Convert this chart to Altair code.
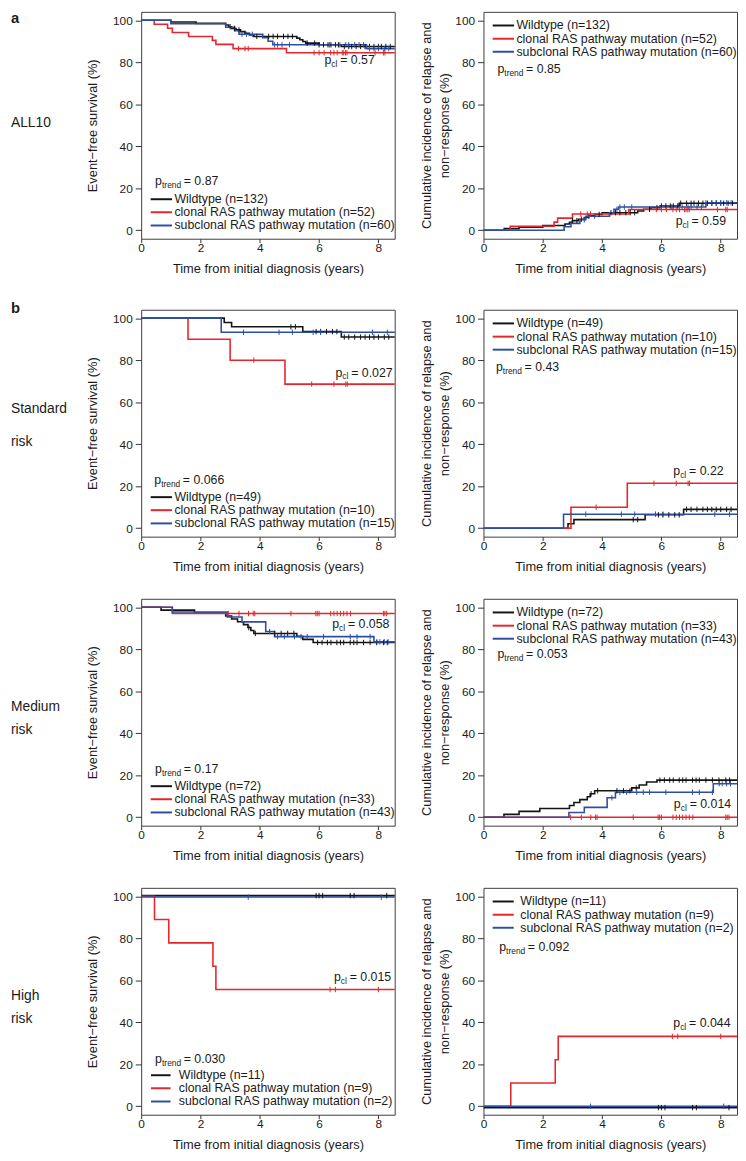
import altair as alt
import pandas as pd

FONT = "Liberation Sans"
INK = "#1b1b1b"
GROUP_ORDER = ["wt", "cl", "sub"]
GROUP_COLORS = ["#141414", "#e5262c", "#2d4fa3"]
X_MAX = 8.55
T_END = 8.6  # curves run on to the right border

# ===================== ALL10 =====================
all10_efs_wt_t = [0, 1.0, 1.85, 2.85, 2.95, 3.05, 3.2, 3.35, 3.5, 3.65, 3.8, 5.25, 5.35, 5.45, 5.55, 6.0, 6.75]
all10_efs_wt_v = [100, 99.2, 98.5, 97.7, 96.9, 96.1, 95.4, 94.6, 93.8, 93.0, 92.3, 91.5, 90.7, 89.9, 89.1, 88.3, 87.5]
all10_efs_cl_t = [0, 0.44, 0.89, 1.05, 1.6, 2.4, 2.52, 3.1, 4.9]
all10_efs_cl_v = [100, 98.1, 96.2, 94.2, 92.3, 90.4, 88.5, 86.5, 84.5]
all10_efs_sub_t = [0, 1.0, 2.85, 3.15, 3.3, 4.1, 4.28, 4.44, 7.6]
all10_efs_sub_v = [100, 98.3, 96.7, 95.0, 93.3, 91.7, 90.0, 88.3, 86.5]
all10_cir_wt_t = [0, 0.7, 1.2, 2.0, 2.75, 2.9, 3.0, 3.2, 3.4, 3.55, 3.75, 4.0, 5.2, 5.4, 5.65, 5.95, 6.6]
all10_cir_wt_v = [0, 0.8, 1.5, 2.3, 3.0, 3.8, 4.6, 5.3, 6.1, 6.9, 7.6, 8.4, 9.2, 10.0, 10.8, 11.6, 12.9]
all10_cir_cl_t = [0, 0.9, 2.38, 2.5, 3.0, 4.9]
all10_cir_cl_v = [0, 1.9, 3.9, 5.8, 7.8, 9.9]
all10_cir_sub_t = [0, 2.72, 2.95, 3.25, 3.45, 4.25, 4.4, 4.55, 7.5]
all10_cir_sub_v = [0, 1.7, 3.3, 5.0, 6.7, 8.3, 10.0, 11.1, 13.1]
all10_cens_wt = [3.0, 3.15, 3.3, 3.9, 4.3, 4.45, 4.6, 4.8, 4.95, 5.1, 5.6, 5.85, 6.0, 6.15, 6.3, 6.4,
                 6.55, 6.65, 6.85, 7.0, 7.1, 7.25, 7.4, 7.55, 7.7, 7.85, 8.0, 8.1, 8.25, 8.4]
all10_cens_cl = [3.28, 3.5, 3.61, 5.83, 6.0, 6.17, 6.39, 6.5, 6.61, 6.78, 6.83, 6.89, 6.94, 7.89, 8.17, 8.22]
all10_cens_sub = [3.4, 3.55, 3.75, 4.5, 4.6, 4.75, 5.0, 6.35, 6.7, 6.9, 7.0, 7.2, 7.35, 7.5, 7.7, 7.85, 8.0, 8.2, 8.35]

# ===================== Standard risk =====================
sr_efs_wt_t = [0, 2.8, 3.05, 5.45, 6.75]
sr_efs_wt_v = [100, 97.9, 95.9, 93.6, 91.0]
sr_efs_cl_t = [0, 1.58, 3.0, 4.85]
sr_efs_cl_v = [100, 90.0, 80.0, 68.6]
sr_efs_sub_t = [0, 2.7]
sr_efs_sub_v = [100, 93.3]
sr_cir_wt_t = [0, 2.85, 3.05, 5.45, 6.75]
sr_cir_wt_v = [0, 2.1, 4.1, 6.4, 9.0]
sr_cir_cl_t = [0, 2.95, 4.85]
sr_cir_cl_v = [0, 10.0, 21.4]
sr_cir_sub_t = [0, 2.7]
sr_cir_sub_v = [0, 6.7]
sr_cens_wt = [5.05, 5.2, 5.9, 6.05, 6.25, 6.45, 6.6, 6.85, 7.0, 7.2, 7.4, 7.55, 7.7, 7.85, 8.0, 8.2, 8.35]
sr_cens_cl = [3.8, 5.75, 6.5, 6.9, 6.95]
sr_cens_sub = [3.45, 4.65, 5.1, 5.8, 6.05, 7.8, 8.3]

# ===================== Medium risk =====================
mr_efs_wt_t = [0, 0.67, 1.8, 2.85, 3.05, 3.25, 3.45, 3.6, 3.7, 3.8, 5.25, 5.45, 5.8]
mr_efs_wt_v = [100, 98.6, 97.2, 95.8, 94.4, 93.1, 91.7, 90.3, 88.9, 87.5, 86.1, 84.7, 83.2]
mr_efs_cl_t = [0, 1.05]
mr_efs_cl_v = [100, 97.0]
mr_efs_sub_t = [0, 1.05, 2.9, 3.4, 4.2, 4.5, 7.85]
mr_efs_sub_v = [100, 97.7, 95.3, 93.0, 88.4, 86.0, 83.5]
mr_cir_wt_t = [0, 0.69, 1.2, 1.9, 2.9, 3.05, 3.25, 3.5, 3.6, 3.75, 5.0, 5.25, 5.5, 5.85]
mr_cir_wt_v = [0, 1.4, 2.8, 4.2, 5.6, 7.0, 8.4, 9.8, 11.2, 12.6, 14.0, 15.4, 16.8, 17.7]
mr_cir_cl_t = [0]
mr_cir_cl_v = [0]
mr_cir_sub_t = [0, 2.88, 3.4, 4.17, 4.45, 7.75]
mr_cir_sub_v = [0, 2.3, 4.7, 9.3, 11.9, 16.0]
mr_cens_wt = [3.63, 3.85, 4.5, 4.72, 4.94, 5.15, 5.95, 6.1, 6.28, 6.4, 6.6, 6.72, 6.83, 7.05, 7.17,
              7.28, 7.5, 7.72, 7.94, 8.17, 8.3]
mr_cens_cl = [2.94, 3.3, 3.62, 3.78, 3.83, 5.05, 5.89, 5.94, 6.0, 6.39, 6.5, 6.61, 6.72, 6.83, 6.94,
              7.06, 8.17, 8.22, 8.28]
mr_cens_sub = [4.33, 4.6, 4.83, 5.17, 5.39, 5.6, 6.15, 7.05, 7.28, 7.72, 7.95, 8.05, 8.2, 8.33]

# ===================== High risk =====================
hr_efs_wt_t = [0]
hr_efs_wt_v = [100.3]
hr_efs_cl_t = [0, 0.45, 0.93, 2.42, 2.52]
hr_efs_cl_v = [100, 88.9, 77.8, 66.7, 55.6]
hr_efs_sub_t = [0]
hr_efs_sub_v = [99.6]
hr_cir_wt_t = [0]
hr_cir_wt_v = [-0.6]
hr_cir_cl_t = [0, 0.92, 2.42, 2.52]
hr_cir_cl_v = [0, 11.1, 22.2, 33.3]
hr_cir_sub_t = [0]
hr_cir_sub_v = [0]
hr_cens_wt = [5.9, 6.0, 6.12, 7.05, 7.18, 8.28]
hr_cens_cl = [6.37, 6.55, 8.0]
hr_cens_sub = [3.61, 8.1]

# ---------- text ----------
legend_labels = [
    ["Wildtype (n=132)", "clonal RAS pathway mutation (n=52)", "subclonal RAS pathway mutation (n=60)"],
    ["Wildtype (n=49)", "clonal RAS pathway mutation (n=10)", "subclonal RAS pathway mutation (n=15)"],
    ["Wildtype (n=72)", "clonal RAS pathway mutation (n=33)", "subclonal RAS pathway mutation (n=43)"],
    ["Wildtype (n=11)", "clonal RAS pathway mutation (n=9)", "subclonal RAS pathway mutation (n=2)"],
]
p_trend_efs = ["0.87", "0.066", "0.17", "0.030"]
p_trend_cir = ["0.85", "0.43", "0.053", "0.092"]
p_cl_efs = ["0.57", "0.027", "0.058", "0.015"]
p_cl_cir = ["0.59", "0.22", "0.014", "0.044"]
row_labels = [["ALL10"], ["Standard", "risk"], ["Medium", "risk"], ["High", "risk"]]
panel_tags = ["a", "b", None, None]

# annotation anchors (years, %)
p_trend_pos_efs = [(0.47, 23.4), (0.44, 22.9), (0.47, 23.1), (0.47, 22.6)]
p_trend_pos_cir = [(0.47, 76.6), (0.42, 76.8), (0.47, 77.5), (0.53, 75.8)]
p_cl_pos_efs = [(6.18, 81.0), (6.55, 74.1), (6.44, 92.0), (6.5, 61.6)]
p_cl_pos_cir = [(6.48, 4.5), (6.4, 27.1), (6.42, 6.2), (6.4, 39.5)]
row_label_y = [[113], [101, 134.5], [110, 133], [110, 133.5]]
tag_y = [-1, -9]

ROWS = [
    dict(efs={"wt": (all10_efs_wt_t, all10_efs_wt_v), "cl": (all10_efs_cl_t, all10_efs_cl_v), "sub": (all10_efs_sub_t, all10_efs_sub_v)},
         cir={"wt": (all10_cir_wt_t, all10_cir_wt_v), "cl": (all10_cir_cl_t, all10_cir_cl_v), "sub": (all10_cir_sub_t, all10_cir_sub_v)},
         cens={"wt": all10_cens_wt, "cl": all10_cens_cl, "sub": all10_cens_sub}),
    dict(efs={"wt": (sr_efs_wt_t, sr_efs_wt_v), "cl": (sr_efs_cl_t, sr_efs_cl_v), "sub": (sr_efs_sub_t, sr_efs_sub_v)},
         cir={"wt": (sr_cir_wt_t, sr_cir_wt_v), "cl": (sr_cir_cl_t, sr_cir_cl_v), "sub": (sr_cir_sub_t, sr_cir_sub_v)},
         cens={"wt": sr_cens_wt, "cl": sr_cens_cl, "sub": sr_cens_sub}),
    dict(efs={"wt": (mr_efs_wt_t, mr_efs_wt_v), "cl": (mr_efs_cl_t, mr_efs_cl_v), "sub": (mr_efs_sub_t, mr_efs_sub_v)},
         cir={"wt": (mr_cir_wt_t, mr_cir_wt_v), "cl": (mr_cir_cl_t, mr_cir_cl_v), "sub": (mr_cir_sub_t, mr_cir_sub_v)},
         cens={"wt": mr_cens_wt, "cl": mr_cens_cl, "sub": mr_cens_sub}),
    dict(efs={"wt": (hr_efs_wt_t, hr_efs_wt_v), "cl": (hr_efs_cl_t, hr_efs_cl_v), "sub": (hr_efs_sub_t, hr_efs_sub_v)},
         cir={"wt": (hr_cir_wt_t, hr_cir_wt_v), "cl": (hr_cir_cl_t, hr_cir_cl_v), "sub": (hr_cir_sub_t, hr_cir_sub_v)},
         cens={"wt": hr_cens_wt, "cl": hr_cens_cl, "sub": hr_cens_sub}),
]

PANEL_W, PANEL_H = 257, 230
LEG_V_EFS = [14.8, 8.6, 2.3]
LEG_V_CIR = [97.5, 91.2, 85.0]
LEG_FS = 12.5
P_FS = 12.5

COLOR = alt.Color("grp:N", scale=alt.Scale(domain=GROUP_ORDER, range=GROUP_COLORS), legend=None)

X_AXIS = alt.Axis(values=[0, 2, 4, 6, 8], title="Time from initial diagnosis (years)", tickSize=4,
                  labelPadding=0, titleY=30, titleBaseline="middle", labelFlush=False, labelOverlap=False)
Y_AXIS_EFS = alt.Axis(values=[0, 20, 40, 60, 80, 100], title="Event−free survival (%)", tickSize=6,
                      labelPadding=3, titleX=-49, titleBaseline="middle", labelOverlap=False)
Y_AXIS_CIR = alt.Axis(values=[0, 20, 40, 60, 80, 100],
                      title=["Cumulative incidence of relapse and", "non−response (%)"], tickSize=6,
                      labelPadding=3, titleX=-58, titleBaseline="middle", titleLineHeight=19, labelOverlap=False)


def step_rows(ts, vs, grp):
    out = [{"t": t, "v": v, "grp": grp} for t, v in zip(ts, vs)]
    out.append({"t": T_END, "v": vs[-1], "grp": grp})
    return out


def level_at(ts, vs, t):
    cur = vs[0]
    for ti, vi in zip(ts, vs):
        if ti <= t:
            cur = vi
    return cur


def make_panel(i, kind):
    row = ROWS[i]
    left = kind == "efs"
    xs = alt.Scale(domain=[0, X_MAX], nice=False, zero=False)
    X = alt.X("t:Q", scale=xs, axis=X_AXIS)
    Y = alt.Y("v:Q", scale=alt.Scale(domain=[-4, 104], nice=False, zero=False),
              axis=Y_AXIS_EFS if left else Y_AXIS_CIR)
    layers = []
    for g in GROUP_ORDER:
        ts, vs = row[kind][g]
        layers.append(
            alt.Chart(pd.DataFrame(step_rows(ts, vs, g)))
            .mark_line(interpolate="step-after", strokeWidth=1.6, clip=True)
            .encode(x=X, y=Y, color=COLOR)
        )
    cens = []
    for g in GROUP_ORDER:
        ts, vs = row[kind][g]
        for c in row["cens"][g]:
            cens.append({"t": c, "v": level_at(ts, vs, c), "grp": g})
    layers.append(
        alt.Chart(pd.DataFrame(cens))
        .mark_point(shape="M0,-1L0,1", size=30, strokeWidth=1, filled=False, opacity=1, clip=True)
        .encode(x=X, y=Y, color=COLOR)
    )
    # in-plot legend
    high = i == 3
    if left:
        t1, t2, tt = (0.33, 0.99, 1.27) if high else (0.32, 1.04, 1.12)
        lv = LEG_V_EFS
    else:
        t1, t2, tt = (0.31, 1.02, 1.24) if high else (0.31, 1.03, 1.11)
        lv = LEG_V_CIR
    leg = pd.DataFrame({"t": [t1] * 3, "t2": [t2] * 3, "tt": [tt] * 3, "v": lv, "grp": GROUP_ORDER,
                        "label": legend_labels[i]})
    layers.append(alt.Chart(leg).mark_rule(strokeWidth=2).encode(x=X, x2="t2:Q", y=Y, color=COLOR))
    layers.append(
        alt.Chart(leg).mark_text(align="left", baseline="middle", fontSize=LEG_FS, color=INK)
        .encode(x=alt.X("tt:Q", scale=xs, axis=X_AXIS), y=Y, text="label:N")
    )
    # p values with subscripts
    pt = (p_trend_pos_efs if left else p_trend_pos_cir)[i]
    pc = (p_cl_pos_efs if left else p_cl_pos_cir)[i]
    ptv = (p_trend_efs if left else p_trend_cir)[i]
    pcv = (p_cl_efs if left else p_cl_cir)[i]
    pdf = pd.DataFrame({"t": [pt[0], pc[0]], "v": [pt[1], pc[1]], "main": ["p", "p"],
                        "sub": ["trend", "cl"], "rest": ["= " + ptv, "= " + pcv]})
    layers.append(alt.Chart(pdf).mark_text(align="left", baseline="middle", fontSize=P_FS, color=INK)
                  .encode(x=X, y=Y, text="main:N"))
    layers.append(alt.Chart(pdf).mark_text(align="left", baseline="middle", fontSize=8.5, dx=7, dy=4, color=INK)
                  .encode(x=X, y=Y, text="sub:N"))
    layers.append(alt.Chart(pdf.iloc[[0]]).mark_text(align="left", baseline="middle", fontSize=P_FS, dx=29, color=INK)
                  .encode(x=X, y=Y, text="rest:N"))
    layers.append(alt.Chart(pdf.iloc[[1]]).mark_text(align="left", baseline="middle", fontSize=P_FS, dx=16, color=INK)
                  .encode(x=X, y=Y, text="rest:N"))
    if left:
        for line, ly in zip(row_labels[i], row_label_y[i]):
            layers.append(
                alt.Chart(pd.DataFrame({"label": [line]}))
                .mark_text(align="left", baseline="middle", fontSize=14, color=INK)
                .encode(text="label:N", x=alt.value(-132), y=alt.value(ly))
            )
        if panel_tags[i]:
            layers.append(
                alt.Chart(pd.DataFrame({"label": [panel_tags[i]]}))
                .mark_text(align="left", baseline="top", fontSize=15, fontWeight="bold", color=INK)
                .encode(text="label:N", x=alt.value(-132), y=alt.value(tag_y[i]))
            )
    return alt.layer(*layers).properties(width=PANEL_W, height=PANEL_H)


rows = [alt.hconcat(make_panel(i, "efs"), make_panel(i, "cir"), spacing=90, bounds="flush")
        for i in range(len(ROWS))]

chart = (
    alt.vconcat(*rows, spacing=24)
    .properties(padding={"left": 2, "top": -6, "right": 0, "bottom": 0})
    .configure_view(stroke="#3d3d3d", strokeWidth=1)
    .configure_axis(labelFont=FONT, titleFont=FONT, labelFontSize=12, titleFontSize=13,
                    titleFontWeight="normal", labelColor=INK, titleColor=INK, tickColor="#333333",
                    tickWidth=1, grid=False, domain=False)
    .configure_text(font=FONT)
)

chart.save("out.html", embed_options={"renderer": "svg", "actions": False})
